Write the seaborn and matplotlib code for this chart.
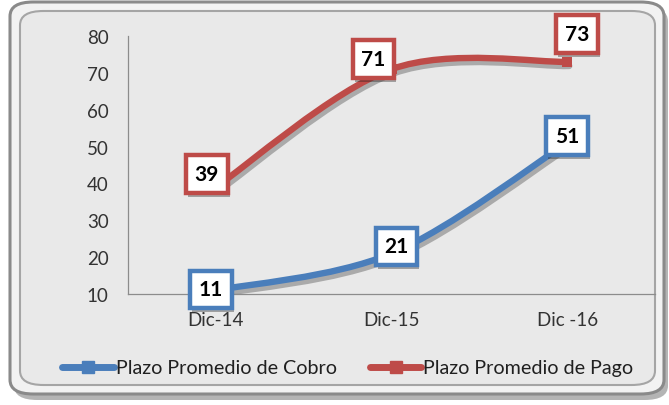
import matplotlib
matplotlib.use("Agg")
import matplotlib.pyplot as plt
import matplotlib.patheffects as pe
import pandas as pd
import seaborn as sns
from matplotlib.path import Path
from matplotlib.patches import PathPatch, FancyBboxPatch
from matplotlib.lines import Line2D

# datos del grafico
periodos = ["Dic-14", "Dic-15", "Dic -16"]
cobro = [11, 21, 51]
pago = [39, 71, 73]
series = ["Plazo Promedio de Cobro", "Plazo Promedio de Pago"]
y_ticks = [10, 20, 30, 40, 50, 60, 70, 80]

AZUL = "#4a7ebb"
ROJO = "#be4b48"

sns.set_theme(style="white")
plt.rcParams["font.family"] = ["Lato", "DejaVu Sans"]

df = pd.DataFrame({
    "periodo": periodos * 2,
    "x": list(range(len(periodos))) * 2,
    "valor": cobro + pago,
    "serie": [series[0]] * 3 + [series[1]] * 3,
})

fig = plt.figure(figsize=(6.69, 4.06), dpi=100)
W, H = 669, 406


def caja(x0, y0, x1, y1, **kw):
    # rectangulo redondeado en pixeles (origen arriba a la izquierda)
    return FancyBboxPatch((x0 / W, 1 - y1 / H), (x1 - x0) / W, (y1 - y0) / H,
                          boxstyle="round,pad=0,rounding_size=0.035",
                          transform=fig.transFigure, **kw)


# marco doble con sombra
fig.patches.extend([
    caja(14, 8, 668, 401, fc="#777777", ec="none", alpha=0.55, zorder=0),
    caja(10, 3, 664, 395, fc="#f2f2f2", ec="#8a8a8a", lw=2.2, zorder=1),
    caja(20, 12, 655, 386, fc="#e9e9e9", ec="#a5a5a5", lw=1.5, zorder=1),
])

ax = fig.add_axes([128 / W, 1 - 295 / H, 527 / W, 258 / H])
ax.set_facecolor("none")
ax.set_zorder(2)


def curva_suave(xs, ys):
    # curva tipo Excel (Catmull-Rom convertida a Bezier)
    verts = [(xs[0], ys[0])]
    codes = [Path.MOVETO]
    n = len(xs)
    for i in range(n - 1):
        x0, y0 = (xs[i - 1], ys[i - 1]) if i > 0 else (xs[i], ys[i])
        x3, y3 = (xs[i + 2], ys[i + 2]) if i + 2 < n else (xs[i + 1], ys[i + 1])
        c1 = (xs[i] + (xs[i + 1] - x0) / 6, ys[i] + (ys[i + 1] - y0) / 6)
        c2 = (xs[i + 1] - (x3 - xs[i]) / 6, ys[i + 1] - (y3 - ys[i]) / 6)
        verts += [c1, c2, (xs[i + 1], ys[i + 1])]
        codes += [Path.CURVE4] * 3
    return Path(verts, codes)


colores = {series[0]: AZUL, series[1]: ROJO}
for nombre, sub in df.groupby("serie"):
    p = curva_suave(list(sub["x"]), list(sub["valor"]))
    patch = PathPatch(p, fill=False, ec=colores[nombre], lw=4.6,
                      capstyle="round", zorder=3,
                      path_effects=[pe.SimpleLineShadow(offset=(1.5, -3), alpha=0.3, shadow_color="k"),
                                    pe.Normal()])
    ax.add_patch(patch)

sns.scatterplot(data=df, x="x", y="valor", hue="serie", palette=colores,
                marker="s", s=55, edgecolor="none", legend=False, ax=ax, zorder=4)

# etiquetas de datos (desplazamiento en pixeles)
desplaz = {(0, 39): (-9, 13), (1, 71): (-18, 10), (2, 73): (10, 28),
           (0, 11): (-5, 1), (1, 21): (5, 7), (2, 51): (0, 7)}
for _, r in df.iterrows():
    dx, dy = desplaz[(r["x"], r["valor"])]
    t = ax.annotate(str(r["valor"]), (r["x"], r["valor"]),
                    xytext=(dx * 0.72, dy * 0.72), textcoords="offset points",
                    ha="center", va="center", fontsize=15, fontweight="bold",
                    color="black", zorder=6,
                    bbox=dict(boxstyle="square,pad=0.42", fc="white",
                              ec=colores[r["serie"]], lw=3.2))
    t.get_bbox_patch().set_path_effects([
        pe.SimplePatchShadow(offset=(1.5, -3), alpha=0.35, shadow_rgbFace="k"),
        pe.Normal()])

ax.set_xlim(-0.5, 2.5)
ax.set_ylim(10, 80)
ax.set_yticks(y_ticks)
ax.set_xticks(range(len(periodos)))
ax.set_xticklabels(periodos)
ax.set_xlabel("")
ax.set_ylabel("")
ax.tick_params(axis="both", length=0, labelsize=13.5, labelcolor="#333333")
ax.tick_params(axis="y", pad=14)
ax.tick_params(axis="x", pad=12)
for lado in ["top", "right"]:
    ax.spines[lado].set_visible(False)
for lado in ["left", "bottom"]:
    ax.spines[lado].set_color("#8c8c8c")
    ax.spines[lado].set_linewidth(0.9)

handles = [Line2D([0], [0], color=AZUL, lw=5, marker="s", markersize=9),
           Line2D([0], [0], color=ROJO, lw=5, marker="s", markersize=9)]
fig.legend(handles, series, loc="center", bbox_to_anchor=(348 / W, 1 - 369 / H),
           ncol=2, frameon=False, fontsize=14.2, handlelength=2.6,
           handletextpad=0.1, columnspacing=1.7, labelcolor="#202020")

fig.savefig("out.png", dpi=100)
